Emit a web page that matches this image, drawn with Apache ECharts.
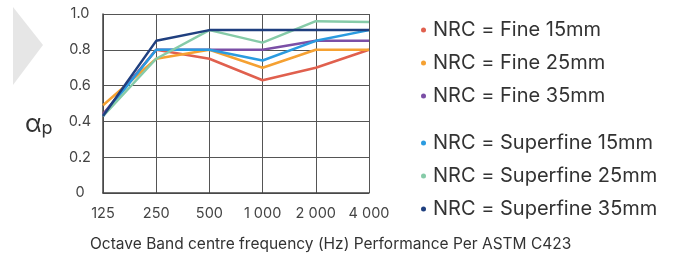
<!DOCTYPE html>
<html><head><meta charset="utf-8">
<script src="https://cdn.jsdelivr.net/npm/echarts@6/dist/echarts.min.js"></script>
<style>html,body{margin:0;padding:0;background:#fff}#c{width:676px;height:258px}</style>
</head><body><div id="c"></div>
<script>
const categories = ['125','250','500','1 000','2 000','4 000'];
const yTicks = [0, 0.2, 0.4, 0.6, 0.8, 1.0];
const fine15 = [0.44, 0.80, 0.75, 0.63, 0.70, 0.80];
const fine25 = [0.49, 0.75, 0.80, 0.70, 0.80, 0.80];
const fine35 = [0.44, 0.80, 0.80, 0.80, 0.85, 0.85];
const superfine15 = [0.43, 0.80, 0.80, 0.74, 0.85, 0.91];
const superfine25 = [0.43, 0.75, 0.91, 0.84, 0.96, 0.955];
const superfine35 = [0.43, 0.85, 0.91, 0.91, 0.91, 0.91];
const names = ['NRC = Fine 15mm','NRC = Fine 25mm','NRC = Fine 35mm','NRC = Superfine 15mm','NRC = Superfine 25mm','NRC = Superfine 35mm'];
const colors = ['#e0604e','#f5a132','#7b4fa6','#2a9be0','#86cba8','#1f3f7f'];
const dataSets = [fine15, fine25, fine35, superfine15, superfine25, superfine35];
const font = 'Inter';
const chart = echarts.init(document.getElementById('c'), null, {renderer:'canvas'});
const legendCommon = {orient:'vertical', left:416, icon:'circle', itemWidth:5, itemHeight:5, itemGap:11, itemStyle:{borderWidth:0},
  textStyle:{fontFamily:font, fontSize:20, color:'#333', lineHeight:22, padding:[0,0,0,2]}};
chart.setOption({
  animation:false,
  color: colors,
  grid:{left:103, right:307, top:14, bottom:65},
  graphic:[
    {type:'polygon', shape:{points:[[13,7],[43,45],[13,85]]}, style:{fill:'#e6e6e6'}},
    {type:'text', left:25, top:112, style:{text:'{a|α}{p|p}', rich:{a:{fontFamily:font, fontSize:25, fill:'#333'}, p:{fontFamily:font, fontSize:18, fill:'#333', padding:[8,0,0,0]}}}},
    {type:'text', left:90, top:236, style:{text:'Octave Band centre frequency (Hz) Performance Per ASTM C423', fontFamily:font, fontSize:15.5, fill:'#333'}}
  ],
  legend:[
    Object.assign({top:14, data:names.slice(0,3)}, legendCommon),
    Object.assign({top:127, data:names.slice(3)}, legendCommon)
  ],
  xAxis:{type:'category', data:categories, boundaryGap:false,
    axisLine:{lineStyle:{color:'#444', width:1.5}}, axisTick:{show:false},
    axisLabel:{fontFamily:font, fontSize:14.5, color:'#444', margin:13, showMaxLabel:true},
    splitLine:{show:true, lineStyle:{color:'#555', width:1}}},
  yAxis:{type:'value', min:yTicks[0], max:yTicks[yTicks.length-1], interval:0.2,
    axisLine:{show:true, lineStyle:{color:'#444', width:1.5}}, axisTick:{show:false},
    axisLabel:{fontFamily:font, fontSize:14.5, color:'#444', margin:23, align:'center',
      formatter:v=> v===0 ? '0' : v.toFixed(1)},
    splitLine:{show:true, lineStyle:{color:'#555', width:1}}},
  series: dataSets.map((d,i)=>({name:names[i], type:'line', data:d, symbol:'none',
    lineStyle:{width:2.5, color:colors[i]}, itemStyle:{color:colors[i]}}))
});
</script></body></html>
